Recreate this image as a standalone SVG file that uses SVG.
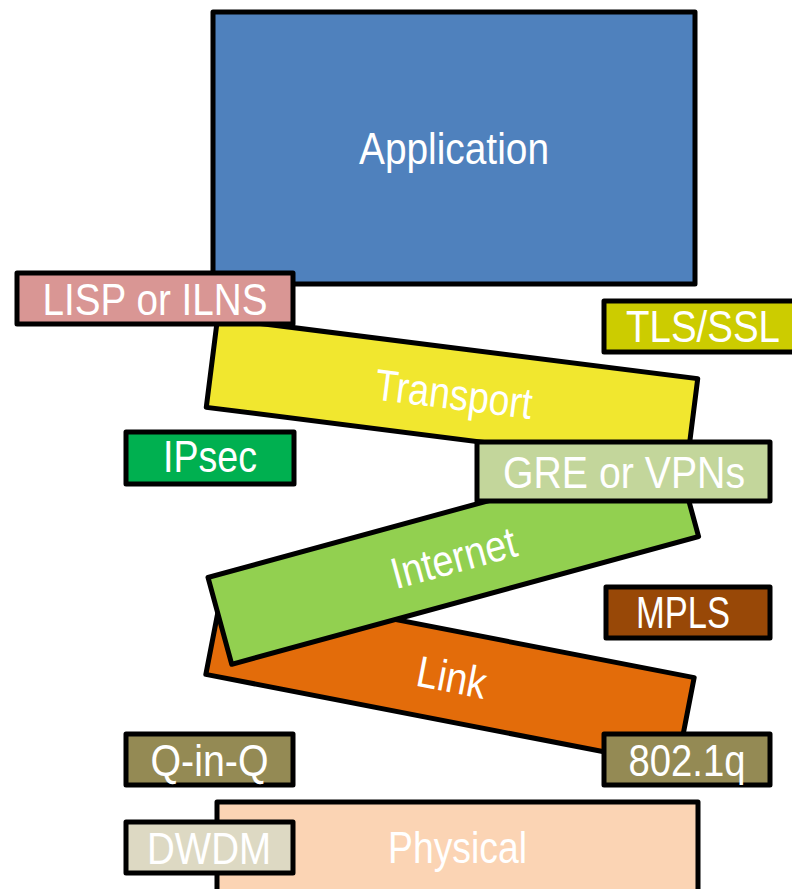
<svg xmlns="http://www.w3.org/2000/svg" width="792" height="889" viewBox="0 0 792 889">
<style>
.b{stroke:#000;stroke-width:5;stroke-linejoin:round}
.t{font-family:"Liberation Sans",Arial,sans-serif;font-size:44px;fill:#fff;text-anchor:middle}
</style>
<rect width="792" height="889" fill="#fff"/>
<g id="application">
<rect class="b" x="213" y="12" width="482" height="272" fill="#4F81BD"/>
<text class="t" x="454" y="164" textLength="190" lengthAdjust="spacingAndGlyphs">Application</text>
</g>
<g id="transport" transform="translate(452,393) rotate(7.2)">
<rect class="b" x="-242" y="-45" width="484" height="90" fill="#F1E72F"/>
<text class="t" x="2" y="16" textLength="158" lengthAdjust="spacingAndGlyphs">Transport</text>
</g>
<g id="link" transform="translate(450,676) rotate(11)">
<rect class="b" x="-240" y="-45" width="480" height="90" fill="#E36C0A"/>
<text class="t" x="2" y="16" textLength="70" lengthAdjust="spacingAndGlyphs">Link</text>
</g>
<g id="internet" transform="translate(453.3,557) rotate(-15.3)">
<rect class="b" x="-242" y="-45" width="484" height="90" fill="#92D050"/>
<text class="t" x="0" y="16" textLength="128" lengthAdjust="spacingAndGlyphs">Internet</text>
</g>
<g id="physical">
<rect class="b" x="217" y="802" width="481" height="120" fill="#FBD4B4"/>
<text class="t" x="457.5" y="863" textLength="139" lengthAdjust="spacingAndGlyphs">Physical</text>
</g>
<g id="lisp">
<rect class="b" x="17" y="273" width="276" height="51" fill="#D99694"/>
<text class="t" x="155" y="315" textLength="225" lengthAdjust="spacingAndGlyphs">LISP or ILNS</text>
</g>
<g id="tls">
<rect class="b" x="604" y="301" width="210" height="51" fill="#CCCC00"/>
<text class="t" x="703" y="342" textLength="154" lengthAdjust="spacingAndGlyphs">TLS/SSL</text>
</g>
<g id="ipsec">
<rect class="b" x="126" y="432" width="168" height="52" fill="#00B050"/>
<text class="t" x="210" y="472" textLength="94" lengthAdjust="spacingAndGlyphs">IPsec</text>
</g>
<g id="gre">
<rect class="b" x="477" y="442" width="293" height="59" fill="#C3D69B"/>
<text class="t" x="624" y="488" textLength="242" lengthAdjust="spacingAndGlyphs">GRE or VPNs</text>
</g>
<g id="mpls">
<rect class="b" x="606" y="587" width="164" height="51" fill="#984807"/>
<text class="t" x="683" y="628" textLength="94" lengthAdjust="spacingAndGlyphs">MPLS</text>
</g>
<g id="qinq">
<rect class="b" x="126" y="734" width="167" height="51" fill="#948A54"/>
<text class="t" x="209.5" y="775.5" textLength="118" lengthAdjust="spacingAndGlyphs">Q-in-Q</text>
</g>
<g id="dot1q">
<rect class="b" x="604" y="734" width="166" height="51" fill="#948A54"/>
<text class="t" x="687" y="775.5" textLength="117" lengthAdjust="spacingAndGlyphs">802.1q</text>
</g>
<g id="dwdm">
<rect class="b" x="126" y="822" width="167" height="51" fill="#DDD9C3"/>
<text class="t" x="209" y="863.5" textLength="124" lengthAdjust="spacingAndGlyphs">DWDM</text>
</g>
</svg>
